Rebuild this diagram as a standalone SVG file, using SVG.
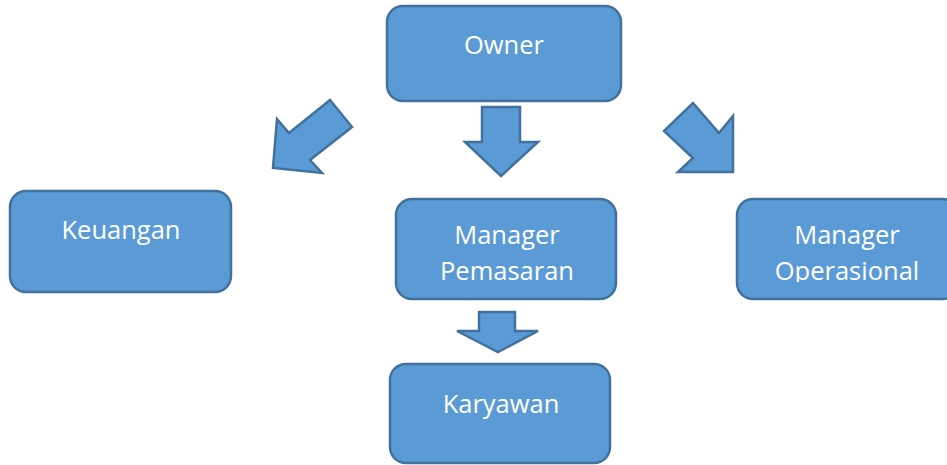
<svg xmlns="http://www.w3.org/2000/svg" width="947" height="465" viewBox="0 0 947 465">
<style>
.box{fill:#5B9BD5;stroke:#41719C;stroke-width:2.5}
.arr{fill:#5B9BD5;stroke:#41719C;stroke-width:2.5;stroke-linejoin:miter}
.t{fill:#fff;font-family:"Open Sans","Noto Sans",sans-serif;font-size:25.5px;text-anchor:middle}
</style>
<defs>
<clipPath id="clipOp"><rect x="736" y="199" width="230" height="83"/></clipPath>
</defs>
<rect width="947" height="465" fill="#fff"/>
<g id="connectors">
<polygon class="arr" points="330,100 352,127 310,160 322,173 273,168 277,119 289,133"/>
<polygon class="arr" points="482,107 520,107 520,142 538,142 501,176 465,142 482,142"/>
<polygon class="arr" points="693,103 719,133 733,116 733,172 678,172 693,158 664,131"/>
<polygon class="arr" points="479,312 515,312 515,331 538,331 498,352 457,331 479,331"/>
</g>
<g id="owner">
<rect class="box" x="387" y="6" width="234" height="95" rx="16"/>
<text class="t" x="504" y="54">Owner</text>
</g>
<g id="keuangan">
<rect class="box" x="10" y="191" width="221" height="101" rx="16"/>
<text class="t" x="121" y="239">Keuangan</text>
</g>
<g id="manager-pemasaran">
<rect class="box" x="396" y="199" width="220" height="100" rx="16"/>
<text class="t" x="507" y="244">Manager</text>
<text class="t" x="507" y="280">Pemasaran</text>
</g>
<g id="manager-operasional">
<rect class="box" x="737" y="199" width="222" height="100" rx="16"/>
<text class="t" x="847" y="244">Manager</text>
<text class="t" x="847" y="280" clip-path="url(#clipOp)">Operasional</text>
</g>
<g id="karyawan">
<rect class="box" x="390" y="364" width="220" height="99" rx="16"/>
<text class="t" x="501" y="413">Karyawan</text>
</g>
</svg>
